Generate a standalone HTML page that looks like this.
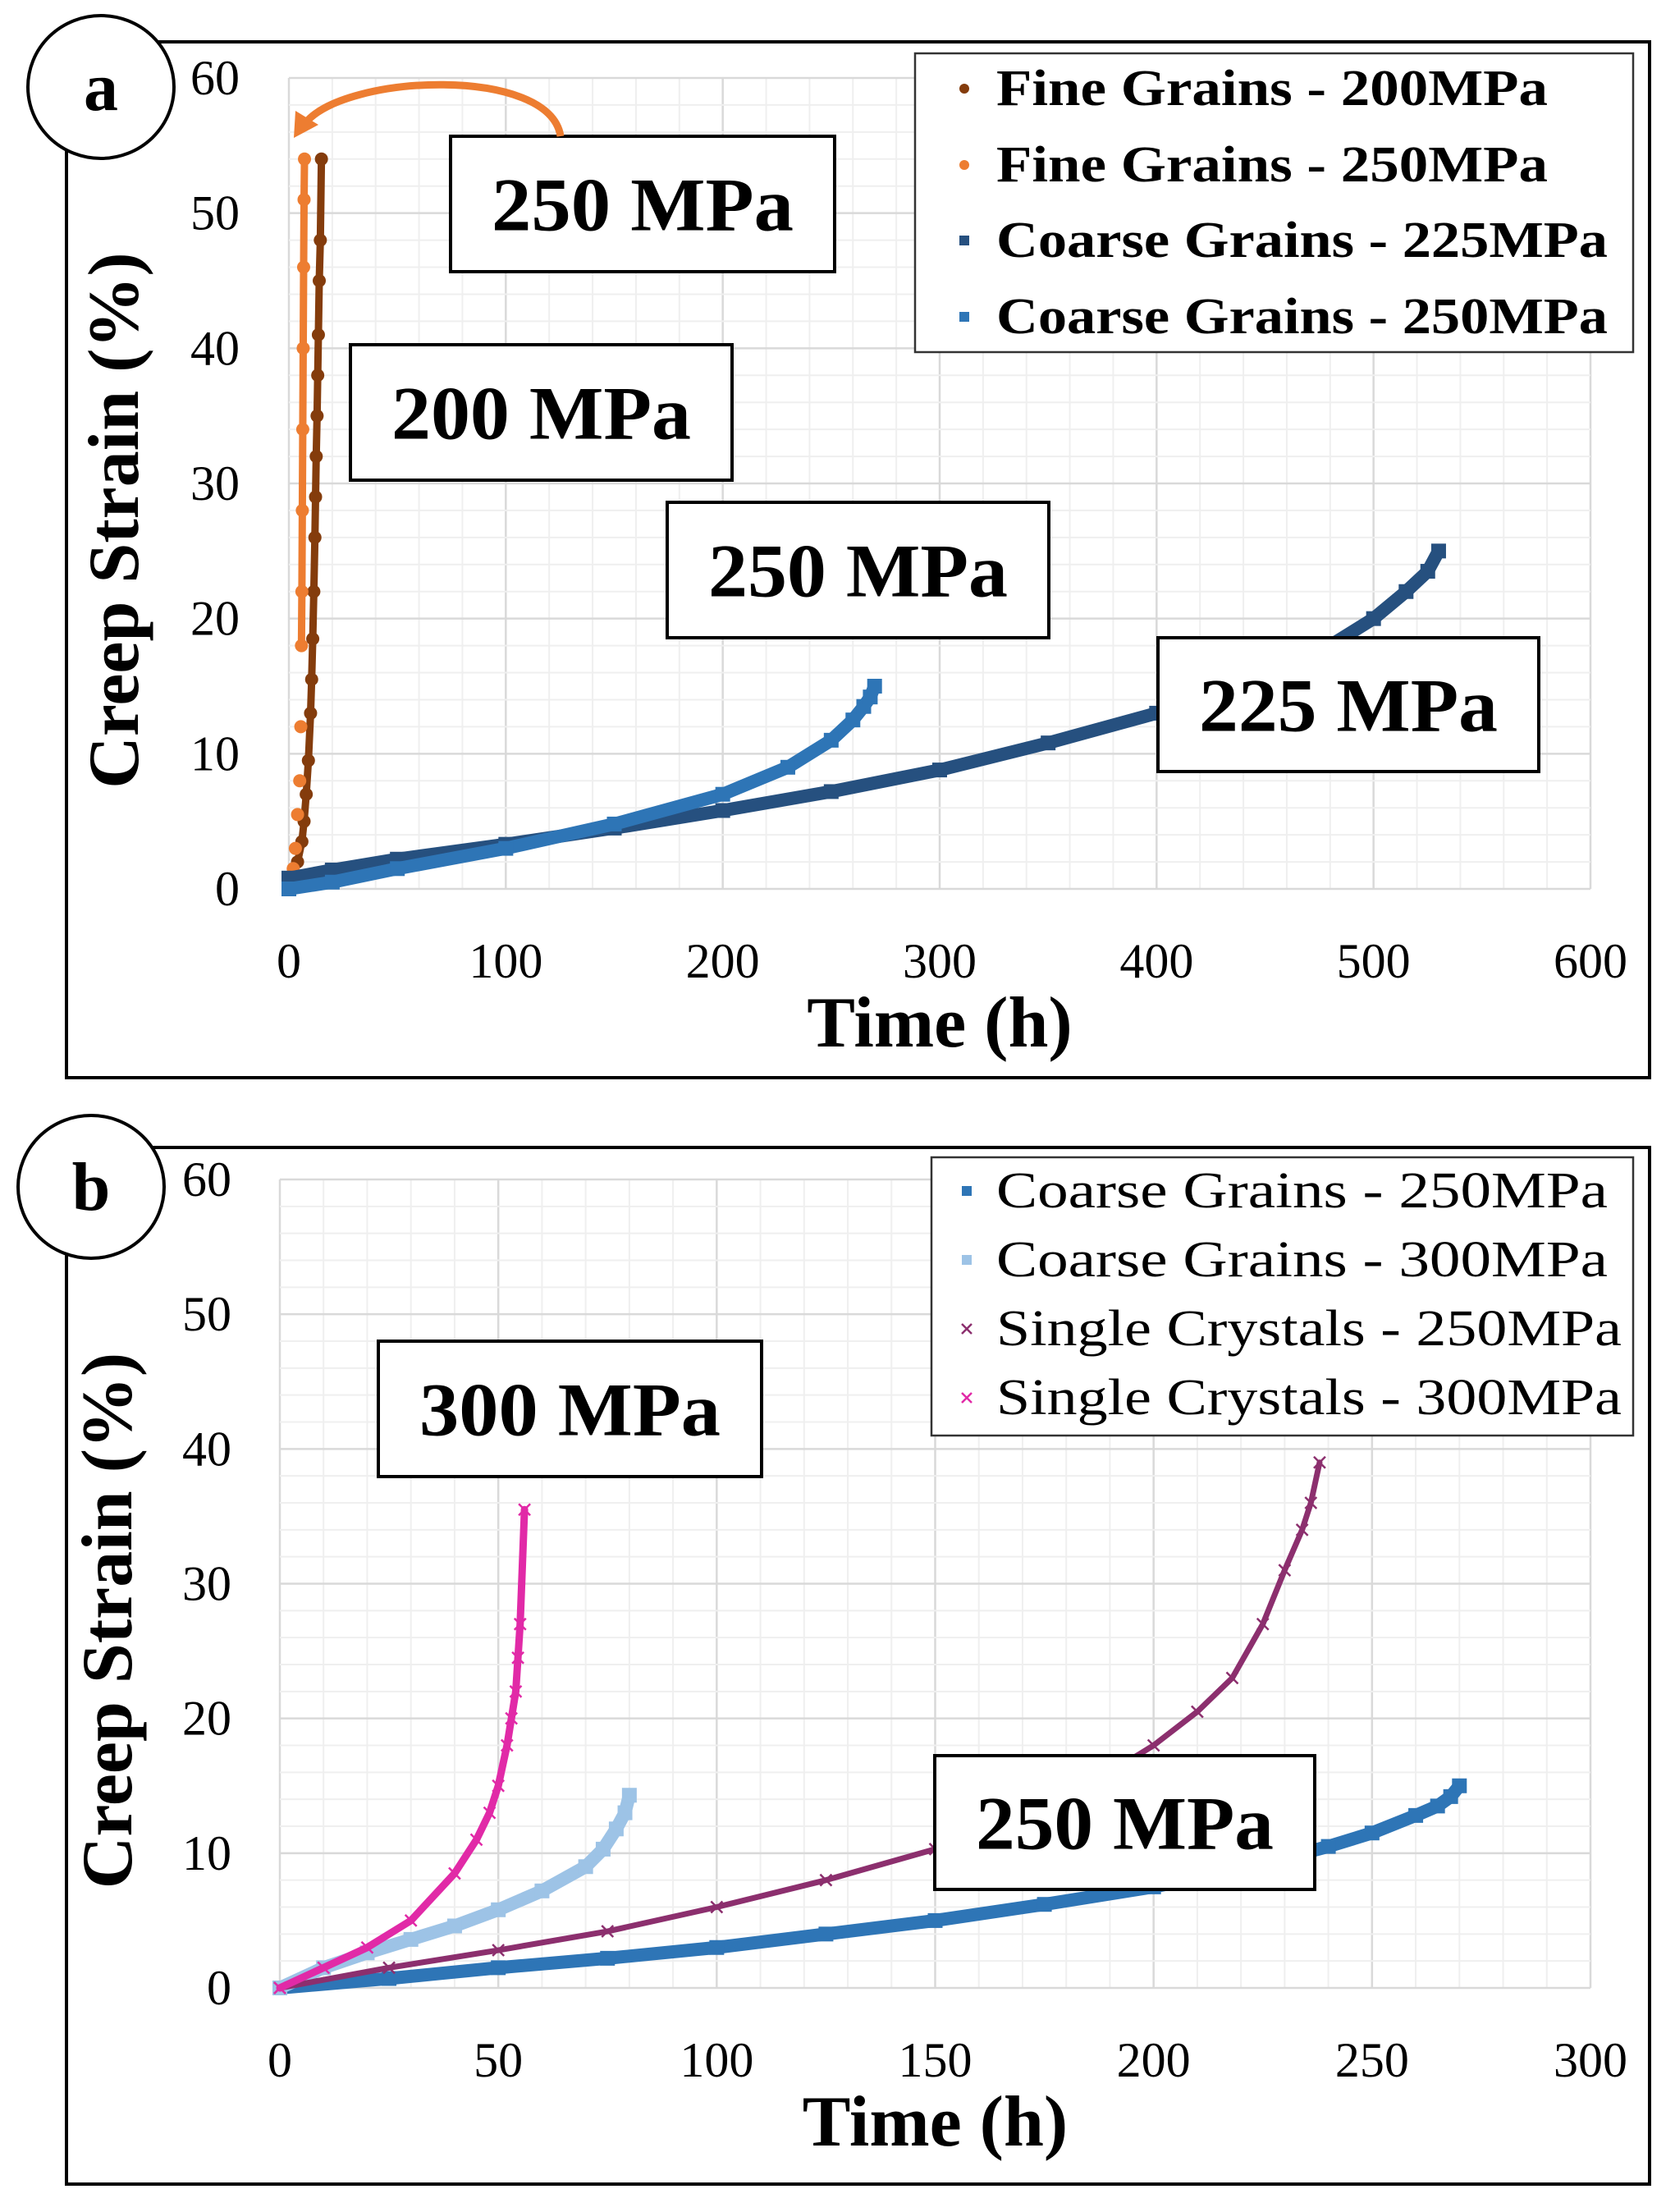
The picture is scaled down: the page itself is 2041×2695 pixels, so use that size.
<!DOCTYPE html>
<html><head><meta charset="utf-8"><style>
html,body{margin:0;padding:0;background:#fff;}
svg{display:block;font-family:"Liberation Serif",serif;}
</style></head><body>
<svg id="fig" width="2041" height="2695" viewBox="0 0 2041 2695" xmlns="http://www.w3.org/2000/svg">
<rect width="2041" height="2695" fill="#fff"/>
<g id="pa"></g>
<g id="pb"></g>
</svg>
<script>
// Panel a data
const aFine200T = [0,2,4,6,7,8,9,10,10.5,11,11.5,12,12.3,12.6,13,13.3,13.6,14,14.5,15];
const aFine200S = [0,1,2,3.5,5,7,9.5,13,15.5,18.5,22,26,29,32,35,38,41,45,48,54];
const aFine250T = [0,2,3,4,5,5.5,5.8,6,6.2,6.4,6.6,6.8,7,7.2];
const aFine250S = [0,1.5,3,5.5,8,12,18,22,28,34,40,46,51,54];
const aCoarse225T = [0,20,50,100,150,200,250,300,350,400,450,480,500,515,525,530];
const aCoarse225S = [0.8,1.4,2.2,3.3,4.5,5.8,7.2,8.8,10.8,13,15.8,18,20,22,23.5,25];
const aCoarse250T = [0,20,50,100,150,200,230,250,260,265,268,270];
const aCoarse250S = [0,0.5,1.5,3,4.8,7,9,11,12.5,13.5,14.2,15];
const aXTicks = [0,100,200,300,400,500,600];
const aYTicks = [0,10,20,30,40,50,60];
// Panel b data
const bCoarse250T = [0,25,50,75,100,125,150,175,200,225,240,250,260,265,268,270];
const bCoarse250S = [0,0.7,1.5,2.2,3,4,5,6.2,7.5,9.2,10.5,11.5,12.8,13.5,14.2,15];
const bCoarse300T = [0,10,20,30,40,50,60,70,74,77,79,80];
const bCoarse300S = [0,1.5,2.6,3.6,4.6,5.8,7.2,9,10.3,11.8,13,14.3];
const bSC250T = [0,25,50,75,100,125,150,175,190,200,210,218,225,230,234,236,238];
const bSC250S = [0,1.5,2.8,4.2,6,8,10.3,13.5,16,18,20.5,23,27,31,34,36,39];
const bSC300T = [0,10,20,30,40,45,48,50,52,53,54,54.5,55,56];
const bSC300S = [0,1.5,3,5,8.5,11,13,15,18,20,22,24.5,27,35.5];
const bXTicks = [0,50,100,150,200,250,300];
const bYTicks = [0,10,20,30,40,50,60];

const NS = "http://www.w3.org/2000/svg";
function mk(parent, tag, attrs){
  const e = document.createElementNS(NS, tag);
  for (const k in attrs) e.setAttribute(k, attrs[k]);
  parent.appendChild(e);
  return e;
}

function panel(g, P){
  const sx = v => P.x0 + (v - P.xmin)/(P.xmax-P.xmin)*(P.x1-P.x0);
  const sy = v => P.y0 - v/60*(P.y0-P.y1);
  const br = mk(g,'rect',{x:P.bx0,y:P.by0,width:P.bx1-P.bx0,height:P.by1-P.by0,fill:'#fff',stroke:'#000','stroke-width':4});
  
  
  const grid = mk(g,'g',{});
  
  
  const xmStep = (P.xmax-P.xmin)/30;
  for(let i=0;i<=30;i++){
    const x = sx(P.xmin+i*xmStep);
    mk(grid,'line',{x1:x,x2:x,y1:P.y1,y2:P.y0,stroke:(i%5==0)?'#d9d9d9':'#efefef','stroke-width':(i%5==0)?2.5:2});
  }
  for(let i=0;i<=30;i++){
    const y = sy(i*2);
    mk(grid,'line',{x1:P.x0,x2:P.x1,y1:y,y2:y,stroke:(i%5==0)?'#d9d9d9':'#efefef','stroke-width':(i%5==0)?2.5:2});
  }
  P.xt.forEach(v=>{
    const t = mk(g,'text',{x:sx(v),y:P.y0+108,'text-anchor':'middle','font-size':60});
    
    
    t.textContent = v;
  });
  P.yt.forEach(v=>{
    const t = mk(g,'text',{x:P.ylx,y:sy(v)+20,'text-anchor':'end','font-size':60});
    
    
    t.textContent = v;
  });
  const xt = mk(g,'text',{x:(P.x0+P.x1)/2,y:P.y0+192,'text-anchor':'middle','font-size':88,'font-weight':'bold'});
  
  
  xt.textContent = 'Time (h)';
  const yt = mk(g,'text',{x:0,y:0,'text-anchor':'middle','font-size':88,'font-weight':'bold',transform:`translate(${P.ytx},${(P.y0+P.y1)/2+45}) rotate(-90)`});
  
  
  yt.textContent = 'Creep Strain (%)';
  P.series.forEach(s=>{
    const sg = mk(g,'g',{});
    
    
    const from = s.from || 0;
    const pts = s.t.slice(from).map((t,i)=>sx(t)+','+sy(s.s[i+from])).join(' ');
    mk(sg,'polyline',{points:pts,fill:'none',stroke:s.c,'stroke-width':s.lw,'stroke-linejoin':'round','stroke-linecap':'round'});
    s.t.forEach((t,i)=>{
      const x=sx(t), y=sy(s.s[i]);
      let m;
      if(s.m=='circle') m = mk(sg,'circle',{cx:x,cy:y,r:8,fill:s.c});
      else if(s.m=='square') m = mk(sg,'rect',{x:x-9,y:y-9,width:18,height:18,fill:s.c});
      else m = mk(sg,'path',{d:`M${x-7},${y-7}L${x+7},${y+7}M${x-7},${y+7}L${x+7},${y-7}`,stroke:s.c,'stroke-width':2.5});
      
      
    });
  });
  P.boxes.forEach(b=>{
    const bg = mk(g,'g',{});
    
    
    mk(bg,'rect',{x:b.x,y:b.y,width:b.w,height:b.h,fill:'#fff',stroke:'#000','stroke-width':4});
    const t = mk(bg,'text',{x:b.x+b.w/2,y:b.y+b.h/2+32,'text-anchor':'middle','font-size':92,'font-weight':'bold',textLength:b.w-100,lengthAdjust:'spacingAndGlyphs'});
    t.textContent = b.t;
  });
  const lg = mk(g,'g',{});
  
  
  mk(lg,'rect',{x:P.lg.x,y:P.lg.y,width:P.lg.w,height:P.lg.h,fill:'#fff',stroke:'#333','stroke-width':2.5});
  P.series.forEach((s,i)=>{
    const y = P.lg.ey[i];
    const e = mk(lg,'g',{});
    
    
    if(s.m=='circle') mk(e,'circle',{cx:P.lg.mx,cy:y,r:6,fill:s.c});
    else if(s.m=='square') mk(e,'rect',{x:P.lg.mx-6,y:y-6,width:12,height:12,fill:s.c});
    else mk(e,'path',{d:`M${P.lg.mx-6},${y-6}L${P.lg.mx+6},${y+6}M${P.lg.mx-6},${y+6}L${P.lg.mx+6},${y-6}`,stroke:s.c,'stroke-width':2.5});
    const t = mk(e,'text',{x:P.lg.tx,y:y+20,'font-size':62,'font-weight':P.lg.fw,textLength:s.tl,lengthAdjust:'spacingAndGlyphs'});
    t.textContent = s.label;
  });
  const cg = mk(g,'g',{});
  
  
  mk(cg,'ellipse',{cx:P.cx,cy:P.cy,rx:89,ry:87,fill:'#fff',stroke:'#000','stroke-width':4});
  const ct = mk(cg,'text',{x:P.cx,y:P.cy+28,'text-anchor':'middle','font-size':84,'font-weight':'bold'});
  ct.textContent = P.letter;
}

panel(document.getElementById('pa'),{
  bx0:81,by0:51,bx1:2010,by1:1313,x0:352,x1:1938,xmin:0,xmax:600,y0:1083,y1:95,
  xt:aXTicks,yt:aYTicks,ylx:292,ytx:168,cx:123,cy:106,letter:'a',
  series:[
    {id:'fine-200',t:aFine200T,s:aFine200S,c:'#843c0c',m:'circle',lw:9,label:'Fine Grains - 200MPa',tl:672},
    {id:'fine-250',t:aFine250T,s:aFine250S,c:'#ed7d31',m:'circle',lw:9,from:6,label:'Fine Grains - 250MPa',tl:672},
    {id:'coarse-225',t:aCoarse225T,s:aCoarse225S,c:'#26507f',m:'square',lw:16,label:'Coarse Grains - 225MPa',tl:745},
    {id:'coarse-250',t:aCoarse250T,s:aCoarse250S,c:'#2e75b6',m:'square',lw:16,label:'Coarse Grains - 250MPa',tl:745}
  ],
  boxes:[
    {n:'250mpa-fine',x:549,y:166,w:468,h:165,t:'250 MPa'},
    {n:'200mpa',x:427,y:420,w:465,h:165,t:'200 MPa'},
    {n:'250mpa-coarse',x:813,y:612,w:465,h:165,t:'250 MPa'},
    {n:'225mpa',x:1411,y:777,w:464,h:163,t:'225 MPa'}
  ],
  lg:{x:1115,y:65,w:875,h:364,ey:[108,201,293,386],mx:1175,tx:1214,fw:'bold'}
});
panel(document.getElementById('pb'),{
  bx0:81,by0:1398,bx1:2010,by1:2661,x0:341,x1:1938,xmin:0,xmax:300,y0:2422,y1:1437,
  xt:bXTicks,yt:bYTicks,ylx:282,ytx:160,cx:111,cy:1446,letter:'b',
  series:[
    {id:'coarse-250',t:bCoarse250T,s:bCoarse250S,c:'#2e75b6',m:'square',lw:16,label:'Coarse Grains - 250MPa',tl:745},
    {id:'coarse-300',t:bCoarse300T,s:bCoarse300S,c:'#9dc3e6',m:'square',lw:16,label:'Coarse Grains - 300MPa',tl:745},
    {id:'sc-250',t:bSC250T,s:bSC250S,c:'#8c2f6e',m:'x',lw:7,label:'Single Crystals - 250MPa',tl:762},
    {id:'sc-300',t:bSC300T,s:bSC300S,c:'#e12aa7',m:'x',lw:9,label:'Single Crystals - 300MPa',tl:762}
  ],
  boxes:[
    {n:'300mpa',x:461,y:1634,w:467,h:165,t:'300 MPa'},
    {n:'250mpa',x:1139,y:2139,w:463,h:163,t:'250 MPa'}
  ],
  lg:{x:1135,y:1410,w:855,h:339,ey:[1451,1535,1619,1703],mx:1178,tx:1214,fw:'normal'}
});
const pa = document.getElementById('pa');
const arr = mk(pa,'g',{});


mk(arr,'path',{d:'M683,166 C670,80 420,90 372,150',fill:'none',stroke:'#ed7d31','stroke-width':9});
mk(arr,'path',{d:'M358,168 L360,135 L388,152 Z',fill:'#ed7d31'});
</script>
</body></html>
